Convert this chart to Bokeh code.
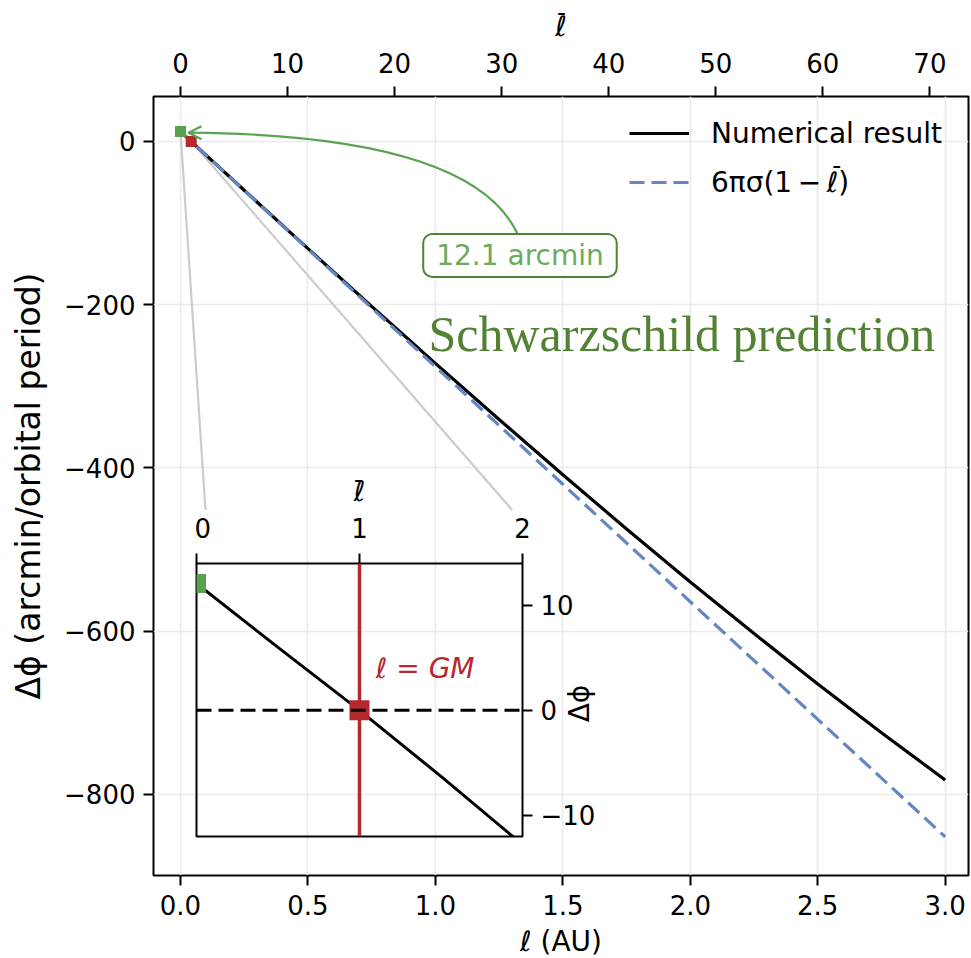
import math
from bokeh.plotting import figure
from bokeh.models import (Range1d, LinearAxis, FixedTicker, Label, Span, Arrow, OpenHead,
                          PrintfTickFormatter, Legend)
from bokeh.embed import file_html
from bokeh.resources import INLINE

# ---------------- data ----------------
GM = 0.042            # AU, the length scale: l_bar = l / GM
arcmin_shift = 12.1   # 6*pi*sigma, arcmin per orbital period

ell = [0.0, 0.25, 0.5, 0.75, 1.0, 1.25, 1.5, 1.75, 2.0, 2.25, 2.5, 2.75, 3.0]
numerical = [12.1, -59.8, -131.3, -202.1, -272.0, -340.8, -408.5, -474.9,
             -539.8, -603.1, -664.8, -724.6, -782.5]
schwarzschild = [12.1, -59.9, -132.0, -204.0, -276.0, -348.0, -420.1, -492.1,
                 -564.1, -636.1, -708.2, -780.2, -852.2]

x_ticks = [0.0, 0.5, 1.0, 1.5, 2.0, 2.5, 3.0]
y_ticks = [0, -200, -400, -600, -800]
lbar_ticks = [0, 10, 20, 30, 40, 50, 60, 70]

inset_lbar = [0.0, 0.5, 1.0, 1.5, 2.0]
inset_dphi = [12.1, 6.0, 0.0, -6.3, -12.8]
inset_x_ticks = [0, 1, 2]
inset_y_ticks = [-10, 0, 10]

# ---------------- styles ----------------
FONT = "DejaVu Sans"
BLUE = "#6586c3"
RED = "#b5282e"
GREEN_MARK = "#59a14f"
GREEN_ARROW = "#5aa350"
GREEN_TEXT = "#6aab5e"
GREEN_DARK = "#548235"
GRID = "#ebebeb"
ELL = "\u2113"
THIN = "\u2009"
MACRON = "\u00af"


def minus(v):
    return str(v).replace("-", "\u2212")


def style_axis(ax, tick_standoff, label_standoff, label_size="28px"):
    ax.axis_line_color = None
    ax.major_tick_line_color = "black"
    ax.major_tick_line_width = 2
    ax.major_tick_out = 10
    ax.major_tick_in = 0
    ax.minor_tick_line_color = None
    ax.major_label_text_font = FONT
    ax.major_label_text_font_size = "26px"
    ax.major_label_text_color = "black"
    ax.major_label_standoff = tick_standoff
    ax.axis_label_text_font = FONT
    ax.axis_label_text_font_size = label_size
    ax.axis_label_text_font_style = "normal"
    ax.axis_label_text_color = "black"
    ax.axis_label_standoff = label_standoff


def floating_text(text, left, top, w, h, from_top=None, angle=0.0, size="28px", style="normal"):
    """A small transparent figure, placed over the page, that carries one text."""
    f = figure(frame_width=w, frame_height=h, x_range=Range1d(0, 1), y_range=Range1d(0, 1),
               x_axis_type=None, y_axis_type=None, min_border=0,
               output_backend="svg", toolbar_location=None,
               background_fill_alpha=0, border_fill_alpha=0, outline_line_color=None)
    f.grid.visible = False
    if from_top is None:
        ly, baseline = 0.5, "middle"
    else:
        ly, baseline = 1 - from_top / h, "top"
    f.add_layout(Label(x=0.5, y=ly, text=text, angle=angle, text_align="center",
                       text_baseline=baseline, text_font=FONT, text_font_size=size,
                       text_font_style=style, text_color="black"))
    f.styles = {"position": "absolute", "left": f"{left}px", "top": f"{top}px", "z-index": "6"}
    return f


# ---------------- main figure ----------------
x0, x1 = -0.1059, 3.0914
y0, y1 = -899.6, 55.1
p = figure(frame_width=815, frame_height=779,
           x_range=Range1d(x0, x1), y_range=Range1d(y0, y1),
           min_border_left=153, min_border_right=3, min_border_top=96, min_border_bottom=83,
           output_backend="svg", toolbar_location=None,
           background_fill_color="white", border_fill_color="white")
p.outline_line_color = "black"
p.outline_line_width = 2
p.outline_line_alpha = 1

xa = p.xaxis[0]
ya = p.yaxis[0]
xa.ticker = FixedTicker(ticks=x_ticks)
xa.formatter = PrintfTickFormatter(format="%.1f")
xa.axis_label = ELL + " (AU)"
style_axis(xa, 9, 7)
ya.ticker = FixedTicker(ticks=y_ticks)
ya.major_label_overrides = {t: minus(t) for t in y_ticks}
ya.axis_label = "\u0394\u03d5 (arcmin/orbital period)"
style_axis(ya, 8, 13, "33px")

p.xgrid[0].ticker = FixedTicker(ticks=x_ticks)
p.ygrid[0].ticker = FixedTicker(ticks=y_ticks)
for g in (p.xgrid[0], p.ygrid[0]):
    g.grid_line_color = GRID
    g.grid_line_width = 1.6

p.extra_x_ranges = {"lbar": Range1d(x0 / GM, x1 / GM)}
top = LinearAxis(x_range_name="lbar", ticker=FixedTicker(ticks=lbar_ticks), axis_label=ELL)
style_axis(top, 14, 7)
p.add_layout(top, "above")

# connector lines from the zoomed points to the inset
p.segment(x0=[0.0, GM], y0=[arcmin_shift, 0.0], x1=[0.098, 1.301], y1=[-451.6, -451.6],
          line_color="#cccccc", line_width=2.2)

r_num = p.line(ell, numerical, line_color="black", line_width=3.2)
r_sch = p.line(ell, schwarzschild, line_color=BLUE, line_width=3.2, line_dash="15 7")

p.scatter([0.0], [arcmin_shift], marker="square", size=11, fill_color=GREEN_MARK, line_color=None)
p.scatter([GM], [0.0], marker="square", size=11, fill_color=RED, line_color=None)

# curved arrow from the label to the green point
p.quadratic(x0=[1.321], y0=[-112.5], x1=[0.0314], y1=[10.8], cx=[1.138], cy=[8.0],
            line_color=GREEN_ARROW, line_width=2.2)
p.add_layout(Arrow(end=OpenHead(size=13, line_color=GREEN_ARROW, line_width=2.2),
                   x_start=0.05, y_start=10.8, x_end=0.0314, y_end=10.8,
                   line_color=GREEN_ARROW, line_width=2.2))

p.add_layout(Label(x=1.3318, y=-139.7, text=f"{arcmin_shift} arcmin",
                   text_align="center", text_baseline="middle",
                   text_font=FONT, text_font_size="28px", text_color=GREEN_TEXT,
                   border_line_color=GREEN_DARK, border_line_width=2,
                   background_fill_color="white", padding=(13, 5), border_radius=9))

p.add_layout(Label(x=0.973, y=-235.9, text="Schwarzschild prediction",
                   text_align="left", text_baseline="alphabetic",
                   text_font="Liberation Serif", text_font_size="50px", text_color=GREEN_DARK))

legend = Legend(items=[("Numerical result", [r_num]),
                       ("6\u03c0\u03c3(1" + THIN + "\u2212" + THIN + ELL + ")", [r_sch])],
                location="top_right", background_fill_alpha=0, border_line_alpha=0,
                label_text_font=FONT, label_text_font_size="28px", label_text_color="black",
                glyph_width=60, glyph_height=40, label_height=40, label_width=240,
                label_standoff=22, spacing=9, padding=17, margin=0)
p.add_layout(legend)

# bar of l-bar in the legend entry
p.add_layout(Label(x=2.575, y=-24.6, text=MACRON, text_align="center", text_baseline="top",
                   text_font=FONT, text_font_size="22px", text_font_style="bold",
                   text_color="black"))

# ---------------- inset ----------------
iy0, iy1 = -12.03, 14.0
ins = figure(frame_width=326, frame_height=273,
             x_range=Range1d(0, 2), y_range=Range1d(iy0, iy1),
             x_axis_location="above", y_axis_location="right",
             min_border_left=2, min_border_bottom=2, min_border_top=100, min_border_right=110,
             output_backend="svg", toolbar_location=None,
             background_fill_alpha=0, border_fill_alpha=0)
ins.outline_line_color = "black"
ins.outline_line_width = 2
ins.outline_line_alpha = 1
ins.grid.visible = False
ixa = ins.xaxis[0]
iya = ins.yaxis[0]
ixa.ticker = FixedTicker(ticks=inset_x_ticks)
ixa.axis_label = ELL
style_axis(ixa, 16, 7)
iya.ticker = FixedTicker(ticks=inset_y_ticks)
iya.major_label_overrides = {t: minus(t) for t in inset_y_ticks}
style_axis(iya, 8, 0)

ins.add_layout(Span(location=1.0, dimension="height", line_color=RED, line_width=3.5))
ins.add_layout(Span(location=0.0, dimension="width", line_color="black", line_width=3,
                    line_dash="15 7"))
ins.line(inset_lbar, inset_dphi, line_color="black", line_width=3)
ins.scatter([0.0], [arcmin_shift], marker="square", size=19, fill_color=GREEN_MARK, line_color=None)
ins.scatter([1.0], [0.0], marker="square", size=20, fill_color=RED, line_color=None)
ins.add_layout(Label(x=1.10, y=4.0, text=ELL + " = GM", text_align="left",
                     text_baseline="middle", text_font=FONT, text_font_size="28px",
                     text_font_style="italic", text_color=RED))

ins.styles = {"position": "absolute", "left": "194px", "top": "463px", "z-index": "5"}

# ---------------- texts that sit outside the frames ----------------
# inset y label, reading bottom to top
dphi_label = floating_text("\u0394\u03d5", 557, 664, 44, 78, angle=math.pi / 2)
# bars over the l of the top axis label and of the inset axis label
bar_main = floating_text(MACRON, 541, 0, 40, 44, from_top=8.5, size="22px", style="bold")
bar_inset = floating_text(MACRON, 338, 445, 40, 60, from_top=30, size="22px", style="bold")

open("out.html", "w").write(file_html([p, ins, dphi_label, bar_main, bar_inset], INLINE))
